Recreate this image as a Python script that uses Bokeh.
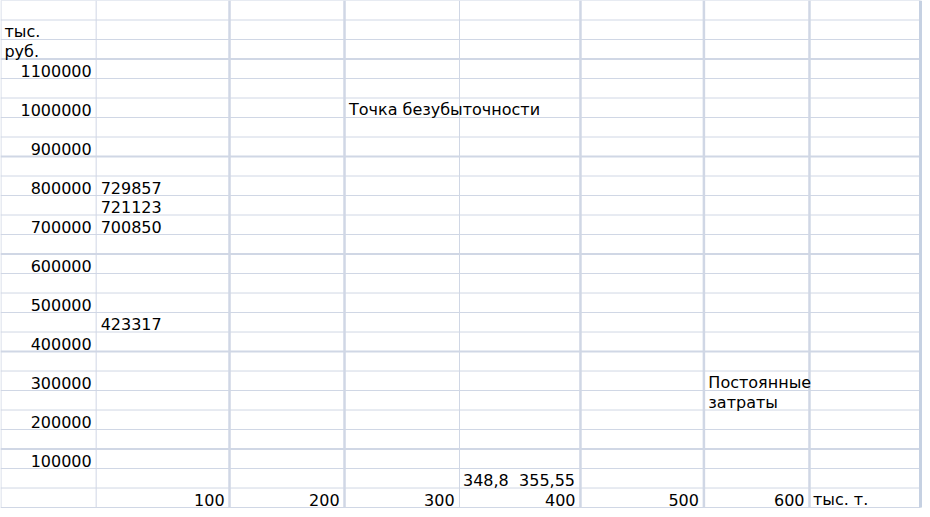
from bokeh.plotting import figure
from bokeh.models import Range1d, ColumnDataSource
from bokeh.embed import file_html
from bokeh.resources import INLINE
from bokeh.core.properties import value

# ---------------- data ----------------
y_ticks = [1100000, 1000000, 900000, 800000, 700000, 600000,
           500000, 400000, 300000, 200000, 100000]
x_ticks = [100, 200, 300, 400, 500, 600]
y_unit = ["тыс.", "руб."]
x_unit = "тыс. т."
revenue_labels = ["729857", "721123", "700850"]
revenue_label_y = [800000, 750000, 700000]
cost_labels = ["423317"]
cost_label_y = [450000]
breakeven_q = ["348,8", "355,55"]
breakeven_title = "Точка безубыточности"
fixed_cost_title = ["Постоянные", "затраты"]

# ---------------- layout (spreadsheet-like grid) ----------------
ROW = 50000                      # value units per grid row
N_ROWS = 26
TOP = 1275000                    # upper edge of the first row
PX_ROW = 515.0 / N_ROWS          # pixel height of one row (reference pixels)
V_PER_PX = ROW / PX_ROW

def val(px):
    return TOP - px * V_PER_PX

col_edges = [0, 96.5, 231, 347, 463, 585, 709.5, 816, 928]
thick_cols = [231, 347, 585, 709.5, 816]
thin_cols = [0.5, 96.5, 463]
thick_rows = [3, 8, 13, 18, 23]

W, H = 922, 509
p = figure(width=W, height=H, output_backend="svg", toolbar_location=None,
           x_range=Range1d(0, 930), y_range=Range1d(val(517), val(0)),
           min_border=0, background_fill_color="white",
           border_fill_color="white")
p.axis.visible = False
p.grid.visible = False
p.outline_line_color = None

GRID = "#D0D7E5"
y_bottom = TOP - N_ROWS * ROW

# horizontal lines
thin_r = [r for r in range(N_ROWS + 1) if r not in thick_rows]
p.segment(x0=[col_edges[0]] * len(thin_r), x1=[col_edges[-1]] * len(thin_r),
          y0=[TOP - r * ROW for r in thin_r], y1=[TOP - r * ROW for r in thin_r],
          line_color=GRID, line_width=1)
p.segment(x0=[col_edges[0]] * len(thick_rows), x1=[col_edges[-1]] * len(thick_rows),
          y0=[TOP - r * ROW for r in thick_rows], y1=[TOP - r * ROW for r in thick_rows],
          line_color=GRID, line_width=2)
# vertical lines
p.segment(x0=thin_cols, x1=thin_cols, y0=[TOP] * len(thin_cols),
          y1=[y_bottom] * len(thin_cols), line_color=GRID, line_width=1)
p.segment(x0=thick_cols, x1=thick_cols, y0=[TOP] * len(thick_cols),
          y1=[y_bottom] * len(thick_cols), line_color=GRID, line_width=2.5)
p.segment(x0=[col_edges[-1]], x1=[col_edges[-1]], y0=[TOP], y1=[y_bottom],
          line_color="#C6D1E2", line_width=3)

FONT = value("DejaVu Sans")
FS = "16px"
BASE = 8.0 * V_PER_PX           # baseline lift above the bottom of a row

def put(xs, ys, texts, align):
    src = ColumnDataSource(dict(x=xs, y=[y - ROW / 2 + BASE for y in ys], t=texts))
    p.text(x="x", y="y", text="t", source=src, text_font=FONT,
           text_font_size=FS, text_color="black", text_align=align,
           text_baseline="alphabetic")

# y tick labels (right aligned in the first column)
put([col_edges[1] - 4.5] * len(y_ticks), y_ticks, [str(v) for v in y_ticks], "right")
# y unit
put([col_edges[0] + 4] * 2, [TOP - 1.5 * ROW, TOP - 2.5 * ROW], y_unit, "left")
# x tick labels (right aligned, one per column, row of value 0)
put([col_edges[i + 2] - 5 for i in range(len(x_ticks))], [0] * len(x_ticks),
    [str(v) for v in x_ticks], "right")
# x unit
put([col_edges[7] + 3.5], [0], [x_unit], "left")
# data labels
put([col_edges[1] + 4.5] * len(revenue_labels), revenue_label_y, revenue_labels, "left")
put([col_edges[1] + 4.5] * len(cost_labels), cost_label_y, cost_labels, "left")
# breakeven quantities
put([col_edges[4] + 3.5], [ROW], [breakeven_q[0]], "left")
put([col_edges[5] - 5.5], [ROW], [breakeven_q[1]], "right")
# annotations
put([col_edges[3] + 4.5], [1000000], [breakeven_title], "left")
put([col_edges[6] + 4.5] * 2, [300000, 250000], fixed_cost_title, "left")

open("out.html", "w").write(file_html(p, INLINE))
